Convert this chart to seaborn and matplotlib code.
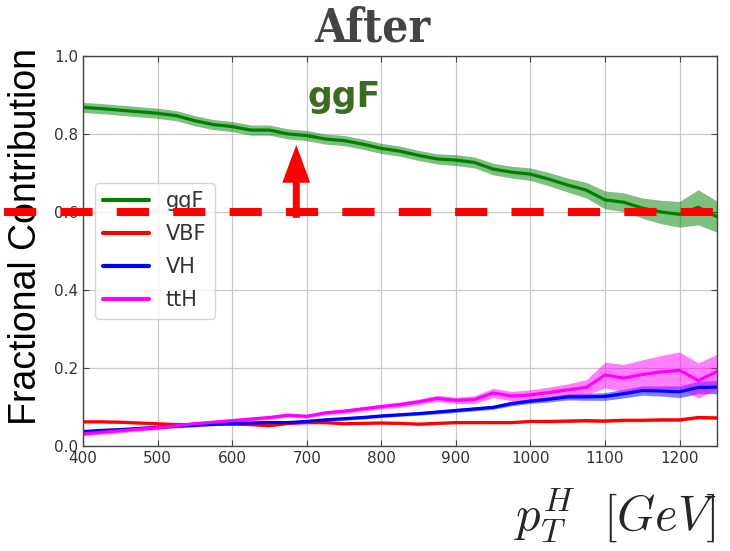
import numpy as np
import pandas as pd
import matplotlib.pyplot as plt
import seaborn as sns
from matplotlib.patches import FancyArrow

# pT bin centres (GeV)
pt = [400, 425, 450, 475, 500, 525, 550, 575, 600, 625, 650, 675, 700, 725, 750,
      775, 800, 825, 850, 875, 900, 925, 950, 975, 1000, 1025, 1050, 1075, 1100,
      1125, 1150, 1175, 1200, 1225, 1250]

# fractional contributions (central values)
ggf = [0.868, 0.865, 0.861, 0.857, 0.853, 0.847, 0.834, 0.824, 0.819, 0.810, 0.810,
       0.800, 0.796, 0.787, 0.783, 0.774, 0.763, 0.756, 0.745, 0.736, 0.733, 0.727,
       0.710, 0.702, 0.697, 0.684, 0.669, 0.656, 0.631, 0.625, 0.610, 0.600, 0.594,
       0.612, 0.588]
vbf = [0.062, 0.062, 0.061, 0.059, 0.057, 0.055, 0.055, 0.056, 0.056, 0.055, 0.052,
       0.058, 0.060, 0.060, 0.057, 0.058, 0.059, 0.058, 0.056, 0.058, 0.060, 0.060,
       0.060, 0.060, 0.063, 0.063, 0.064, 0.065, 0.064, 0.066, 0.066, 0.067, 0.067,
       0.073, 0.072]
vh = [0.037, 0.040, 0.042, 0.045, 0.048, 0.051, 0.053, 0.056, 0.058, 0.059, 0.060,
      0.060, 0.063, 0.067, 0.070, 0.073, 0.077, 0.080, 0.083, 0.087, 0.091, 0.095,
      0.099, 0.109, 0.115, 0.120, 0.126, 0.126, 0.127, 0.134, 0.142, 0.141, 0.139,
      0.150, 0.151]
tth = [0.031, 0.035, 0.039, 0.043, 0.047, 0.052, 0.057, 0.061, 0.065, 0.069, 0.073,
       0.079, 0.076, 0.085, 0.089, 0.095, 0.101, 0.106, 0.113, 0.122, 0.117, 0.119,
       0.136, 0.128, 0.131, 0.137, 0.144, 0.150, 0.182, 0.174, 0.183, 0.190, 0.194,
       0.168, 0.190]

# half widths of the uncertainty bands
ggf_err = [0.013] * 20 + [0.014, 0.014, 0.015, 0.015, 0.016, 0.017, 0.018, 0.020,
                          0.023, 0.024, 0.026, 0.030, 0.033, 0.045, 0.040]
vbf_err = [0.003] * 25 + [0.004] * 10
vh_err = [0.004] * 17 + [0.004, 0.004, 0.005, 0.005, 0.005, 0.005, 0.006, 0.006,
                         0.007, 0.008, 0.009, 0.010, 0.011, 0.012, 0.013, 0.015,
                         0.016, 0.017]
tth_err = [0.005] * 13 + [0.005, 0.006, 0.006, 0.006, 0.007, 0.007, 0.008, 0.008,
                          0.010, 0.012, 0.012, 0.013, 0.014, 0.015, 0.020, 0.033,
                          0.035, 0.038, 0.042, 0.047, 0.045, 0.045]

processes = ['ggF', 'VBF', 'VH', 'ttH']
colors = ['green', 'red', 'blue', 'magenta']

cut_value = 0.6
arrow_x, arrow_lo, arrow_hi = 686, 0.585, 0.772

sns.set_style('whitegrid')
plt.rcParams['font.family'] = ['DejaVu Sans']
plt.rcParams['mathtext.fontset'] = 'cm'

fig = plt.figure(figsize=(7.3, 5.51), dpi=100)
ax = fig.add_axes([0.1137, 0.1906, 0.8683, 0.7078])

for name, c, vals, err in zip(processes, colors, [ggf, vbf, vh, tth],
                              [ggf_err, vbf_err, vh_err, tth_err]):
    vals = np.array(vals)
    err = np.array(err)
    df = pd.DataFrame({'pt': pt, 'frac': vals})
    sns.lineplot(data=df, x='pt', y='frac', color=c, lw=2.3, label=name, ax=ax)
    ax.fill_between(pt, vals - err, vals + err, color=c, alpha=0.5, lw=0)

ax.set_xlim(400, 1250)
ax.set_ylim(0, 1.0)
ax.set_xticks(range(400, 1201, 100))
ax.set_yticks(np.arange(0, 1.01, 0.2))
ax.grid(True, color='#c8c8c8', lw=0.9)
for s in ax.spines.values():
    s.set_color('#444444')
    s.set_linewidth(1.0)
ax.tick_params(direction='in', length=4, color='#444444', labelsize=11,
               labelcolor='#333333', right=True, top=True, left=True, bottom=True)

fig.text(0.51, 0.948, 'After', family='DejaVu Serif', fontsize=33, fontweight='bold',
         fontstretch='condensed', color='#444444', ha='center', va='center')
ax.set_ylabel('Fractional Contribution', family='Liberation Sans', fontsize=27,
              color='black')
ax.yaxis.set_label_coords(-0.061, 0.536)
ax.set_xlabel(r'$p_T^H\ \ [GeV]$', fontsize=35, loc='right', labelpad=15)

leg = ax.legend(loc='upper left', bbox_to_anchor=(0.019, 0.674), borderaxespad=0,
                fontsize=15, handlelength=2.2, handletextpad=0.8, labelspacing=0.62,
                frameon=True)
for t in leg.get_texts():
    t.set_color('#333333')
for h in leg.get_lines():
    h.set_linewidth(3)

# cut line and arrow annotation
ax.axhline(cut_value, xmin=-0.125, xmax=1.03, color='red', lw=5.8,
           linestyle=(0, (4, 3)), clip_on=False, zorder=10)
ax.add_patch(FancyArrow(arrow_x, arrow_lo, 0, arrow_hi - arrow_lo, width=9.4,
                        head_width=37.5, head_length=0.097, length_includes_head=True,
                        color='red', lw=0, clip_on=False, zorder=11))
ax.text(701, 0.869, 'ggF', fontsize=25, fontweight='bold', color='#3a6d1e',
        va='baseline', ha='left')

fig.savefig('out.png', dpi=100)
